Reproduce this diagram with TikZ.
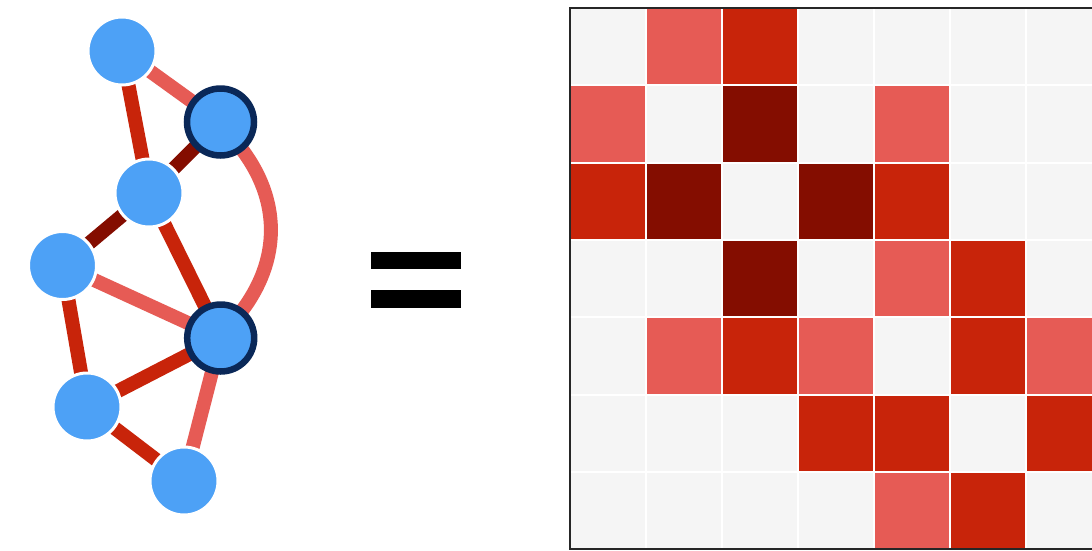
\documentclass[tikz,border=0pt]{standalone}
\usetikzlibrary{backgrounds}
\definecolor{nodeblue}{HTML}{4DA1F6}
\definecolor{navyring}{HTML}{0A2858}
\definecolor{cell0}{HTML}{F5F5F5}
\definecolor{cell1}{HTML}{E65B55}
\definecolor{cell2}{HTML}{C8240A}
\definecolor{cell3}{HTML}{840D00}
\tikzset{
  plainnode/.style={circle, fill=nodeblue, draw=white, line width=3pt, minimum size=68pt, inner sep=0pt},
  ringnode/.style={circle, fill=nodeblue, draw=navyring, line width=6.5pt, minimum size=67pt, inner sep=0pt},
  edgebase/.style={line width=14pt, shorten <=-5pt, shorten >=-5pt},
  lightedge/.style={edgebase, draw=cell1},
  mededge/.style={edgebase, draw=cell2},
  darkedge/.style={edgebase, draw=cell3},
  eqbar/.style={fill=black}
}
\begin{document}
\begin{tikzpicture}[x=1pt,y=1pt]
\useasboundingbox (0,0) rectangle (1092,-550);

% graph nodes
\node[plainnode] (A) at (122,-51) {};
\node[ringnode]  (B) at (220.5,-122) {};
\node[plainnode] (C) at (149,-193) {};
\node[plainnode] (D) at (62.5,-265.5) {};
\node[ringnode]  (E) at (220.7,-338) {};
\node[plainnode] (F) at (87,-407) {};
\node[plainnode] (G) at (184,-481) {};

\begin{scope}[on background layer]
\fill[white] (0,0) rectangle (1092,-550);
\draw[lightedge] (A) -- (B);
\draw[mededge] (A) -- (C);
\draw[darkedge] (B) -- (C);
\draw[lightedge] (B) to[bend left=38] (E);
\draw[darkedge] (C) -- (D);
\draw[mededge] (C) -- (E);
\draw[lightedge] (D) -- (E);
\draw[mededge] (D) -- (F);
\draw[mededge] (E) -- (F);
\draw[lightedge] (E) -- (G);
\draw[mededge] (F) -- (G);
\end{scope}

% equals sign
\fill[eqbar] (371,-252) rectangle (461,-269);
\fill[eqbar] (371,-290) rectangle (461,-308);

% adjacency matrix
\begin{scope}
\clip (0,0) rectangle (1092,-550);
\foreach \r/\row in {0/{0,1,2,0,0,0,0},1/{1,0,3,0,1,0,0},2/{2,3,0,3,2,0,0},3/{0,0,3,0,1,2,0},4/{0,1,2,1,0,2,1},5/{0,0,0,2,2,0,2},6/{0,0,0,0,1,2,0}}{
  \foreach \v [count=\c from 0] in \row {
    \fill[cell\v] ({570+76*\c+1},{-8-77.3*\r-1}) rectangle ({570+76*(\c+1)-1},{-8-77.3*(\r+1)+1});
  }
}
\draw[line width=2pt, black!85] (1095,-8) -- (570,-8) -- (570,-549) -- (1095,-549);
\end{scope}
\end{tikzpicture}
\end{document}
